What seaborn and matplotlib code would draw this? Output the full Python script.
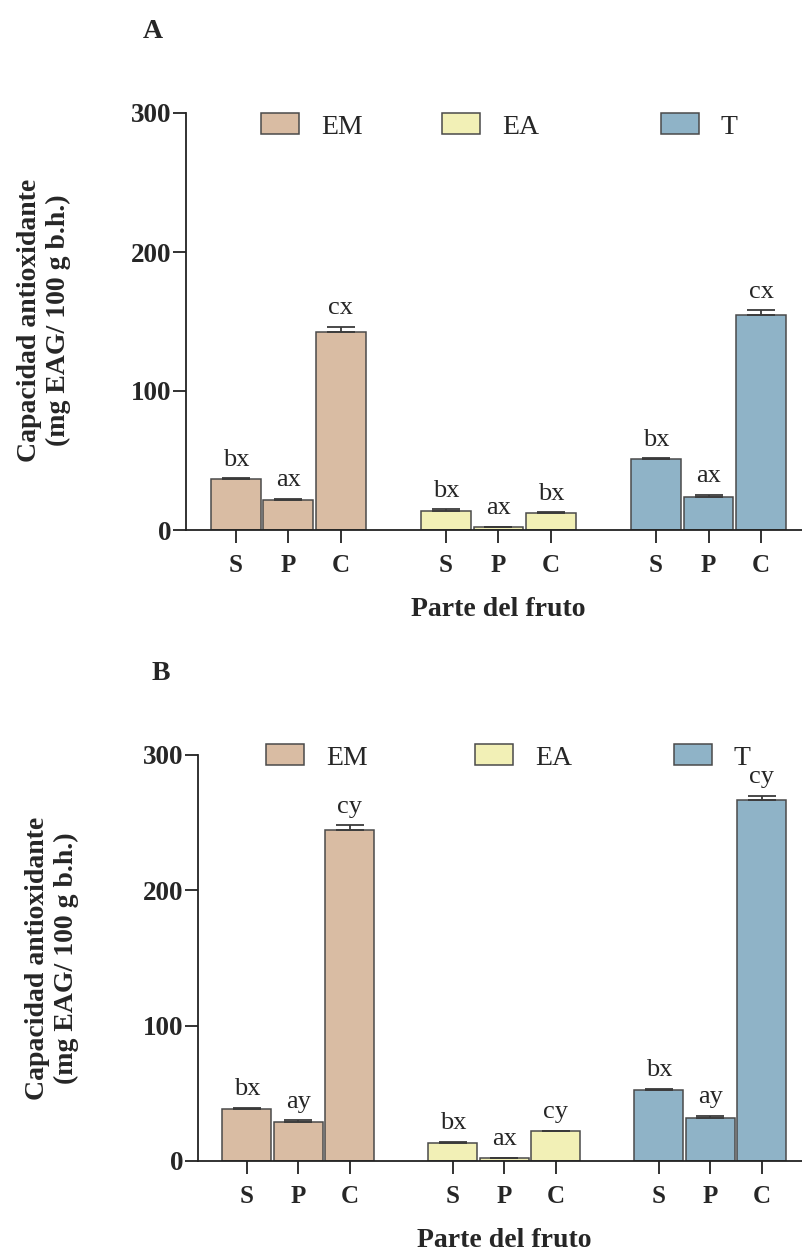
import numpy as np
import pandas as pd
import matplotlib
matplotlib.use("Agg")
import matplotlib.pyplot as plt
import seaborn as sns

# Categories
partes = ["S", "P", "C"]
extractos = ["EM", "EA", "T"]
colores = ["#D9BCA3", "#F2F0B6", "#8FB3C7"]

# Panel A: means, errors and significance letters (S, P, C)
em_a = [36.5, 21.6, 142.7]
ea_a = [13.9, 1.9, 12.0]
t_a = [50.8, 24.0, 155.0]
em_a_err = [0.7, 1.0, 3.5]
ea_a_err = [0.9, 0.5, 0.7]
t_a_err = [0.8, 1.3, 3.0]
em_a_let = ["bx", "ax", "cx"]
ea_a_let = ["bx", "ax", "bx"]
t_a_let = ["bx", "ax", "cx"]

# Panel B
em_b = [38.7, 29.1, 244.5]
ea_b = [13.5, 2.0, 21.9]
t_b = [52.5, 32.0, 266.8]
em_b_err = [0.8, 1.0, 3.5]
ea_b_err = [0.7, 0.5, 0.6]
t_b_err = [1.0, 1.5, 3.0]
em_b_let = ["bx", "ay", "cy"]
ea_b_let = ["bx", "ax", "cy"]
t_b_let = ["bx", "ay", "cy"]

y_ticks = [0, 100, 200, 300]

sns.set_style("ticks")
plt.rcParams["font.family"] = ["Liberation Serif", "DejaVu Serif"]

W, H = 802, 1254
fig = plt.figure(figsize=(W / 100, H / 100), dpi=100)


def fx(px):
    return px / W


def fy(py):
    return 1 - py / H


XLIM = (-0.95, 10.78)


def draw_panel(ax, medias, errores, letras, legend_x, legend_y):
    df = pd.DataFrame({
        "extracto": np.repeat(extractos, 3),
        "parte": partes * 3,
        "valor": np.concatenate(medias),
        "err": np.concatenate(errores),
        "letra": sum(letras, []),
    })
    # three bars per extract, one empty slot between extracts
    df["pos"] = [g * 4 + i for g in range(3) for i in range(3)]

    sns.barplot(data=df, x="pos", y="valor", hue="extracto",
                hue_order=extractos, palette=colores, saturation=1,
                native_scale=True, dodge=False, width=0.95,
                edgecolor="#4a4a4a", linewidth=1.1, errorbar=None, ax=ax)

    ax.errorbar(df["pos"], df["valor"],
                yerr=[np.zeros(len(df)), df["err"]], fmt="none",
                ecolor="#3a3a3a", elinewidth=1.3, capsize=10, capthick=1.3)

    for x, v, e, t in zip(df["pos"], df["valor"], df["err"], df["letra"]):
        ax.annotate(t, (x, v + e), xytext=(0, 9), textcoords="offset points",
                    ha="center", va="baseline", fontsize=19)

    handles, labels = ax.get_legend_handles_labels()
    if ax.get_legend() is not None:
        ax.get_legend().remove()
    for h, l, lx in zip(handles, labels, legend_x):
        leg = fig.legend([h], [l], loc="center left",
                         bbox_to_anchor=(fx(lx), fy(legend_y)),
                         bbox_transform=fig.transFigure, frameon=False,
                         borderpad=0, borderaxespad=0, fontsize=20,
                         handlelength=1.37, handleheight=0.79,
                         handletextpad=0.78)
        for p in leg.get_patches():
            p.set_edgecolor("#4a4a4a")
            p.set_linewidth(1.1)

    ax.set_xlim(*XLIM)
    ax.set_ylim(0, 300)
    ax.set_yticks(y_ticks)
    ax.set_yticklabels([str(t) for t in y_ticks], fontsize=19.5,
                       fontweight="bold")
    ax.set_xticks(df["pos"])
    ax.set_xticklabels(df["parte"], fontsize=18, fontweight="bold")
    ax.tick_params(axis="x", length=9, width=1.3, pad=8, color="#222222")
    ax.tick_params(axis="y", length=9.5, width=1.3, pad=1, color="#222222")
    sns.despine(ax=ax)
    for s in ("left", "bottom"):
        ax.spines[s].set_linewidth(1.3)
        ax.spines[s].set_color("#222222")

    ax.set_ylabel("")
    ax.set_xlabel("Parte del fruto", fontsize=20, fontweight="bold",
                  labelpad=15)
    ax.xaxis.label.set_x((4 - XLIM[0]) / (XLIM[1] - XLIM[0]) + 1 / (XLIM[1] - XLIM[0]))


# Panel A axes
ax_a = fig.add_axes([fx(186), fy(530), fx(802 - 186), (530 - 113) / H])
draw_panel(ax_a, [em_a, ea_a, t_a], [em_a_err, ea_a_err, t_a_err],
           [em_a_let, ea_a_let, t_a_let], [261, 442, 661], 126.5)

# Panel B axes
ax_b = fig.add_axes([fx(198), fy(1161), fx(802 - 198), (1161 - 755) / H])
draw_panel(ax_b, [em_b, ea_b, t_b], [em_b_err, ea_b_err, t_b_err],
           [em_b_let, ea_b_let, t_b_let], [266, 475, 674], 757.5)

ylabel = "Capacidad antioxidante\n(mg EAG/ 100 g b.h.)"
fig.text(fx(44), fy(320), ylabel, rotation=90, ha="center", va="center",
         fontsize=20, fontweight="bold", linespacing=1.2,
         multialignment="center")
fig.text(fx(52), fy(958), ylabel, rotation=90, ha="center", va="center",
         fontsize=20, fontweight="bold", linespacing=1.2,
         multialignment="center")

fig.text(fx(153), fy(31), "A", ha="center", va="center", fontsize=20,
         fontweight="bold")
fig.text(fx(161), fy(673), "B", ha="center", va="center", fontsize=20,
         fontweight="bold")

fig.savefig("out.png", dpi=100)
